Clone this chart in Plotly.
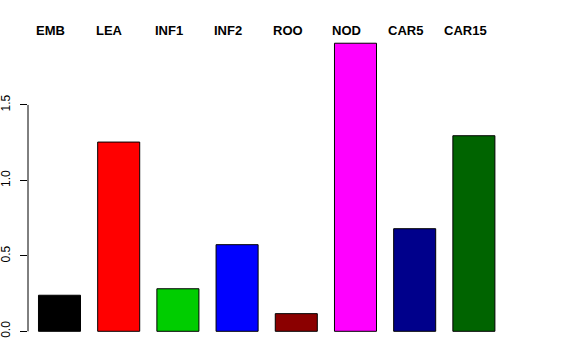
import plotly.graph_objects as go

categories = ["EMB", "LEA", "INF1", "INF2", "ROO", "NOD", "CAR5", "CAR15"]
values = [0.239, 1.254, 0.282, 0.574, 0.117, 1.909, 0.680, 1.296]
colors = ["#000000", "#FF0000", "#00CD00", "#0000FF", "#8B0000", "#FF00FF", "#00008B", "#006400"]
tick_vals = [0.0, 0.5, 1.0, 1.5]
tick_text = ["0.0", "0.5", "1.0", "1.5"]

xpos = list(range(len(categories)))

fig = go.Figure()
fig.add_trace(go.Bar(
    x=xpos, y=values, width=0.71,
    marker=dict(color=colors, line=dict(color="#000000", width=1)),
    showlegend=False, hoverinfo="skip",
))

for i, c in enumerate(categories):
    fig.add_annotation(
        x=i, xref="x", y=1, yref="paper", text="<b>%s</b>" % c,
        showarrow=False, xanchor="center", yanchor="middle",
        xshift=-8.7, yshift=1,
        font=dict(family="Liberation Sans, Arial, sans-serif", size=13, color="#000000"),
    )

fig.add_shape(type="line", xref="paper", yref="y", x0=0, x1=0, y0=0, y1=1.5,
              line=dict(color="#000000", width=1))

fig.update_layout(
    width=576, height=360,
    margin=dict(l=28, r=56, t=31, b=17, autoexpand=False),
    paper_bgcolor="white", plot_bgcolor="white",
    font=dict(family="Liberation Sans, Arial, sans-serif", color="#000000"),
    xaxis=dict(range=[-0.532, 7.779], showgrid=False, zeroline=False,
               showticklabels=False, ticks="", showline=False, fixedrange=True,
               automargin=False),
    yaxis=dict(range=[-0.0775, 1.990], showgrid=False, zeroline=False,
               showline=False, tickvals=tick_vals, ticktext=tick_text,
               ticks="outside", ticklen=7, tickcolor="#000000", tickwidth=1,
               tickangle=-90, tickfont=dict(size=12, color="#000000"),
               ticklabelstandoff=5,
               fixedrange=True, automargin=False),
)

fig.write_html("out.html", config={"displayModeBar": False},
               post_script="document.body.style.margin='0';")
